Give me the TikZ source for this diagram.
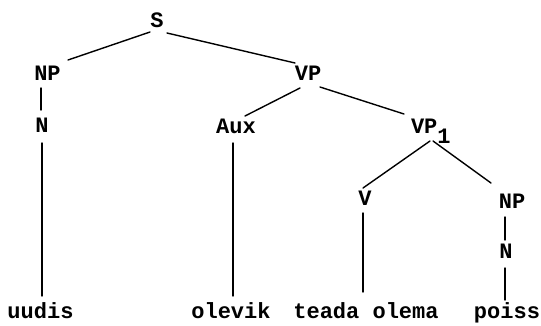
\documentclass[tikz,border=0pt]{standalone}
\usepackage{fontspec}
\newfontfamily\twfont{Liberation Mono}
\begin{document}
\begin{tikzpicture}[x=1pt,y=-1pt,
  lbl/.style={font=\twfont\bfseries\fontsize{22}{22}\selectfont, inner sep=0pt, outer sep=0pt, anchor=base},
  edge/.style={line width=1.4pt, line cap=round}]
\useasboundingbox (0,0) rectangle (541,325);
% nodes
\node[lbl] (S)   at (157,27)  {S};
\node[lbl] (NPa) at (47.5,80) {NP};
\node[lbl] (Na)  at (42,132)  {N};
\node[lbl] (w1)  at (40.5,318) {uudis};
\node[lbl] (VP)  at (308,80)  {VP};
\node[lbl] (Aux) at (236,133) {Aux};
\node[lbl] (w2)  at (231,318) {olevik};
\node[lbl, anchor=base west] (VPo) at (411,133) {VP\raisebox{-10pt}{1}};
\node[lbl] (V)   at (365,205) {V};
\node[lbl] (w3)  at (366,318) {teada olema};
\node[lbl] (NPb) at (512,208) {NP};
\node[lbl] (Nb)  at (506,258) {N};
\node[lbl] (w4)  at (507,318) {poiss};
% connectors
\draw[edge] ([shift={(-7,5)}]S.base) -- ([shift={(20.5,-20)}]NPa.base);
\draw[edge] ([shift={(10,6)}]S.base) -- ([shift={(-13,-17)}]VP.base);
\draw[edge] ([shift={(-6.5,8)}]NPa.base) -- ([shift={(-1,-22)}]Na.base);
\draw[edge] ([shift={(0,11)}]Na.base) -- ([shift={(1.5,-22)}]w1.base);
\draw[edge] ([shift={(-8,8)}]VP.base) -- ([shift={(9,-17)}]Aux.base);
\draw[edge] ([shift={(-3,10)}]Aux.base) -- ([shift={(2,-22)}]w2.base);
\draw[edge] ([shift={(12,7)}]VP.base) -- ([shift={(-7,-19)}]VPo.base west);
\draw[edge] ([shift={(19,8)}]VPo.base west) -- ([shift={(-2,-17)}]V.base);
\draw[edge] ([shift={(22,8)}]VPo.base west) -- ([shift={(-21,-25)}]NPb.base);
\draw[edge] ([shift={(-2,8)}]V.base) -- ([shift={(-3,-26)}]w3.base);
\draw[edge] ([shift={(-7,9)}]NPb.base) -- ([shift={(-1,-18)}]Nb.base);
\draw[edge] ([shift={(-1,10)}]Nb.base) -- ([shift={(-2,-18)}]w4.base);
\end{tikzpicture}
\end{document}
